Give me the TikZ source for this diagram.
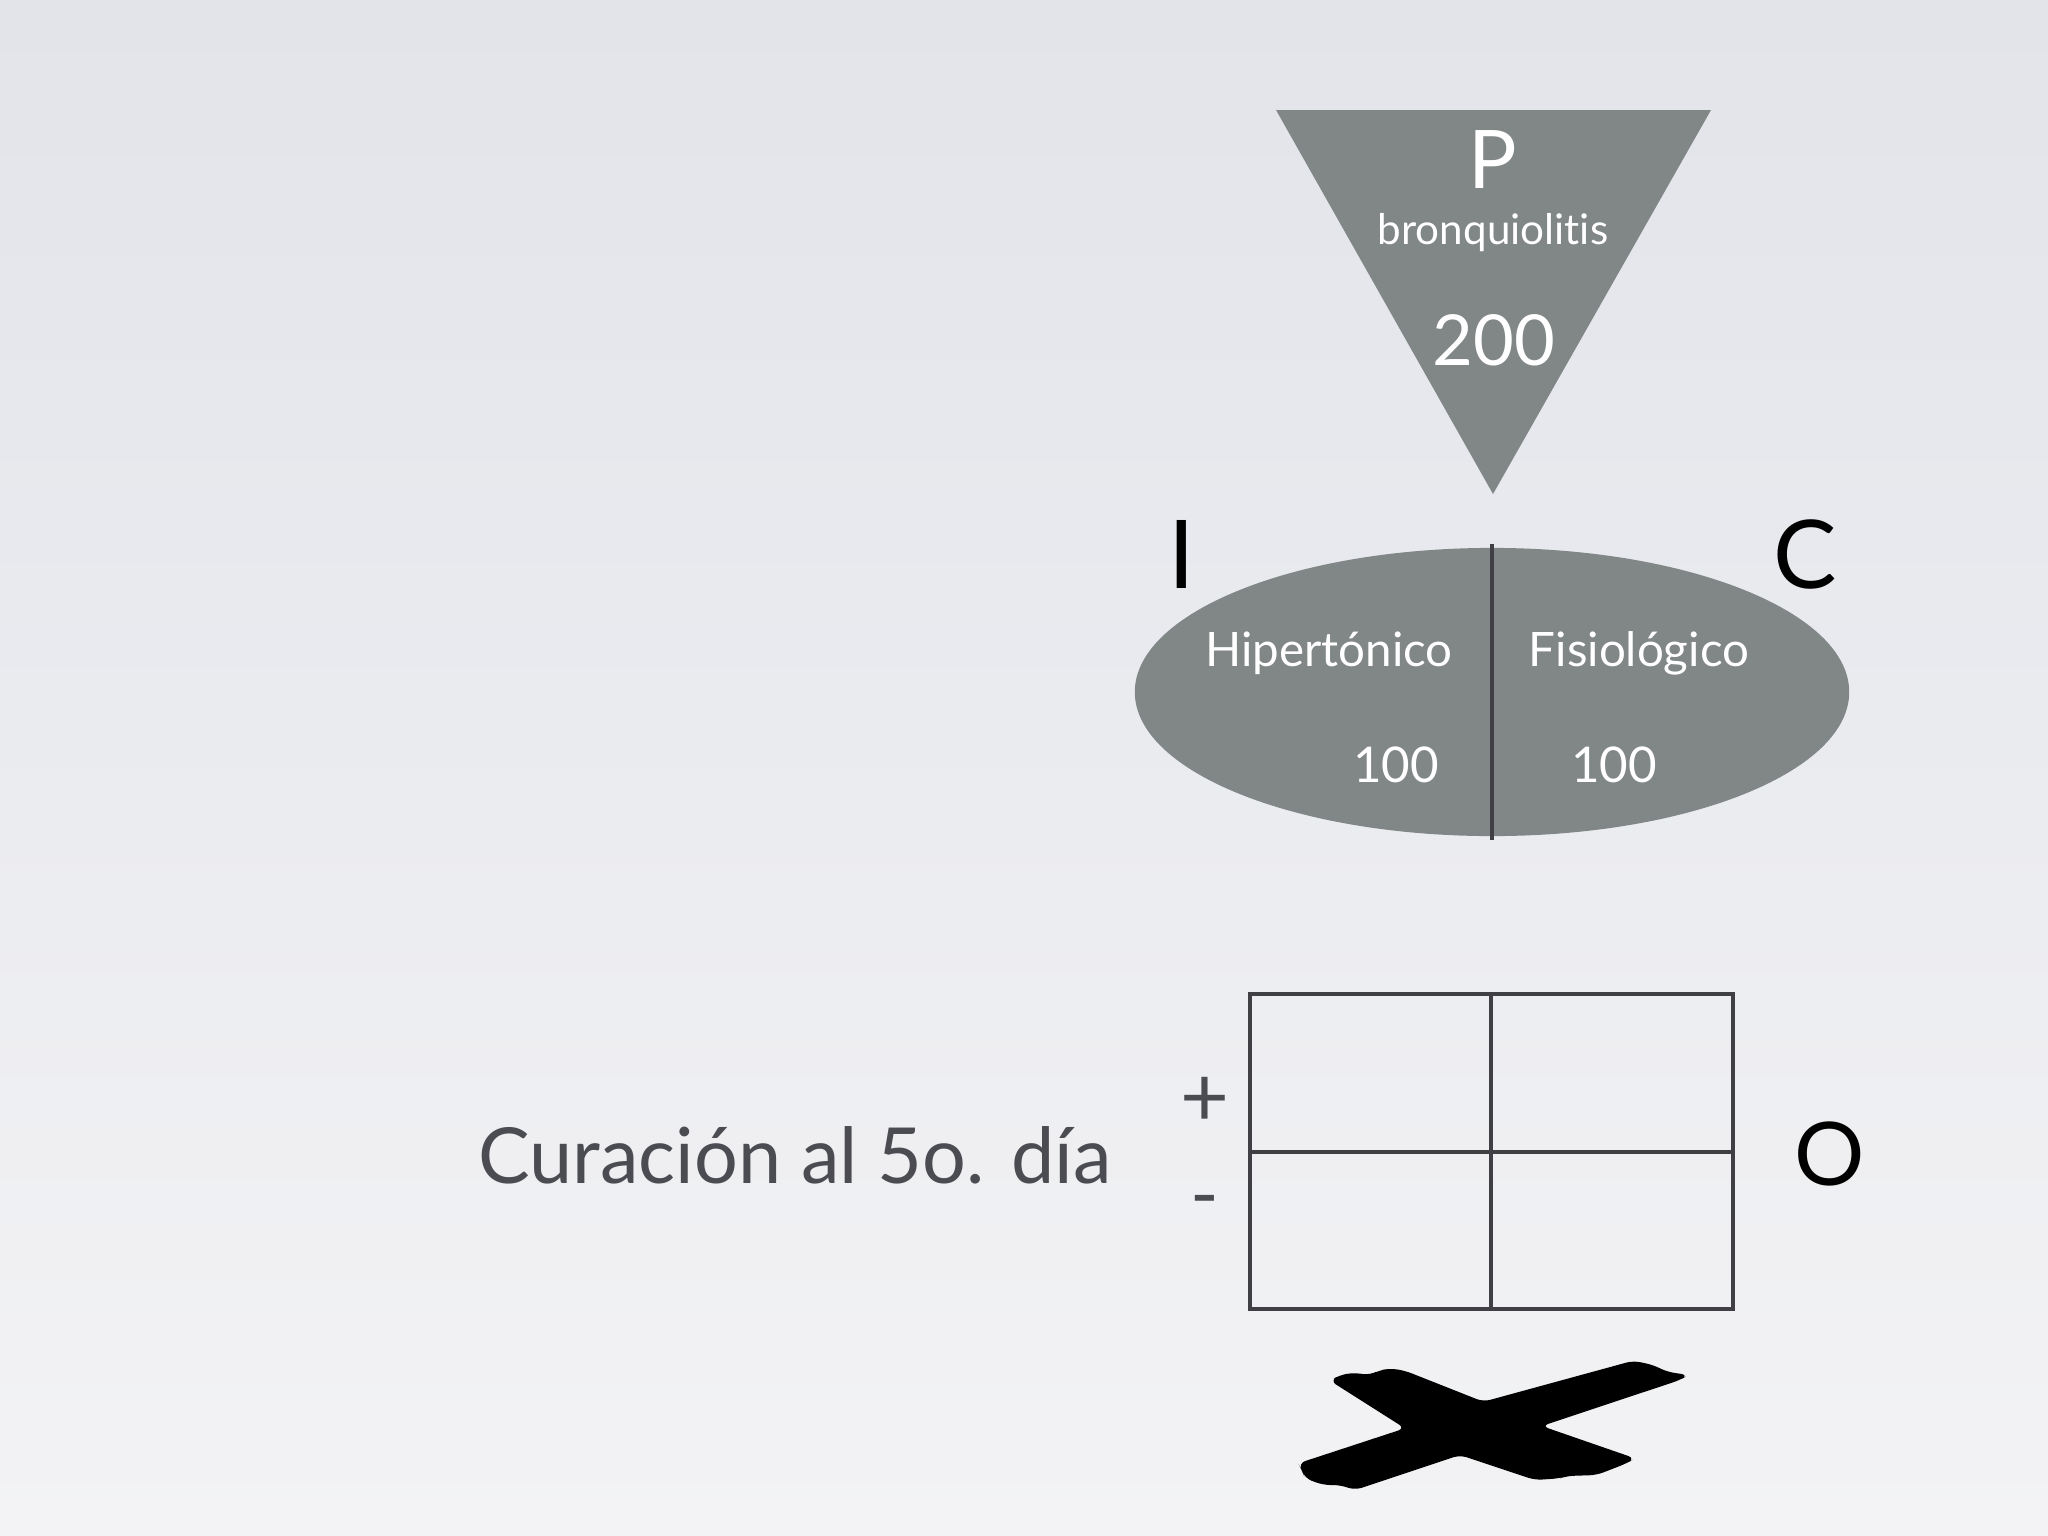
\documentclass[tikz,border=0pt]{standalone}
\usepackage{fontspec}
\setmainfont{Lato}[Ligatures=NoCommon]
\usetikzlibrary{shapes.geometric}

\definecolor{bgtop}{RGB}{226,228,234}
\definecolor{bgbottom}{RGB}{243,243,245}
\definecolor{shapegray}{RGB}{129,134,134}
\definecolor{linegray}{RGB}{63,63,68}
\definecolor{textgray}{RGB}{75,75,82}

\begin{document}
\begin{tikzpicture}[
    x=0.01cm, y=-0.01cm,
    wlabel/.style={text=white, inner sep=0pt},
    blabel/.style={text=black, inner sep=0pt, font=\fontsize{27}{30}\selectfont},
    grid/.style={draw=linegray, line width=0.9pt}
]
% Background
\shade[top color=bgtop, bottom color=bgbottom] (0,0) rectangle (2048,1536);
\useasboundingbox (0,0) rectangle (2048,1536);

% Population triangle
\coordinate (tl) at (1276,110);
\coordinate (tr) at (1711,110);
\coordinate (tip) at (1493,494);
\fill[shapegray] (tl) -- (tr) -- (tip) -- cycle;
\node[wlabel, font=\fontsize{23}{26}\selectfont] (plbl) at (1493,160) {P};
\node[wlabel, font=\fontsize{12}{14}\selectfont, anchor=base] (pname) at (1493,244) {bronquiolitis};
\node[wlabel, font=\fontsize{20}{24}\selectfont] (pnum) at (1494,340) {200};

% Intervention / comparison
\node[ellipse, fill=shapegray, minimum width=7.14cm, minimum height=2.88cm, inner sep=0pt] (groups) at (1492,692) {};
\draw[line width=1.3pt, draw=linegray] ([yshift=0.03cm]groups.north) -- ([yshift=-0.03cm]groups.south);
\node[blabel] (ilbl) at (1182,554) {I};
\node[blabel] (clbl) at (1805,554) {C};
\node[wlabel, font=\fontsize{13.5}{16}\selectfont, anchor=base] (interv) at (1329,666) {Hipertónico};
\node[wlabel, font=\fontsize{13.5}{16}\selectfont, anchor=base] (contr) at (1639,666) {Fisiológico};
\node[wlabel, font=\fontsize{14}{16}\selectfont] (inum) at (1396,765) {100};
\node[wlabel, font=\fontsize{14}{16}\selectfont] (cnum) at (1614,765) {100};

% Outcome table
\draw[grid] (1250,994) rectangle (1733,1309);
\draw[grid] (1491,994) -- (1491,1309);
\draw[grid] (1250,1152) -- (1733,1152);
\draw[draw=linegray, line width=1.3pt] (1250,994) -- (1733,994) (1250,1309) -- (1733,1309);
\node[text=textgray, inner sep=0pt, font=\fontsize{24}{26}\selectfont] (plus) at (1205,1102) {+};
\node[text=textgray, inner sep=0pt, font=\fontsize{22}{26}\selectfont] (minus) at (1205,1208) {-};
\node[blabel, font=\fontsize{25}{28}\selectfont] (olbl) at (1830,1154) {O};
\node[text=textgray, inner sep=0pt, font=\fontsize{22}{26}\selectfont, anchor=base] (outcome) at (795,1183) {Curación al 5o. día};

% Cross
\fill[black, rounded corners=2] (1330,1380.7) -- (1340,1375) -- (1353.3,1372.7) -- (1370,1375) -- (1378.3,1370.7)
  -- (1390,1368.3) -- (1405,1370.7) -- (1483.3,1401.7) -- (1633.3,1360.7) -- (1653.3,1365) -- (1666.7,1371.7)
  -- (1688.3,1375) -- (1680,1380) -- (1541.7,1426) -- (1635,1458.3) -- (1626.7,1463.3) -- (1596.7,1475)
  -- (1566.7,1476) -- (1560,1478.3) -- (1535,1480) -- (1460,1455) -- (1355,1490) -- (1340,1485)
  -- (1323.3,1485) -- (1305,1478.3) -- (1301.7,1470) -- (1298.3,1463.3) -- (1405,1428.3) -- cycle;
\end{tikzpicture}
\end{document}
